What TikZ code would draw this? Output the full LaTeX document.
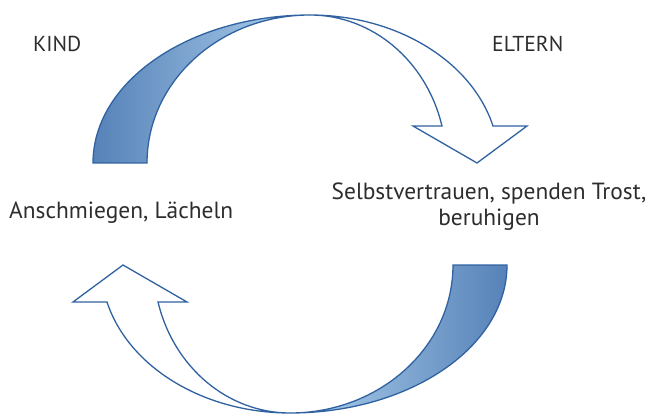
\documentclass[tikz,border=0pt]{standalone}
\usepackage{fontspec}
\setmainfont{PT Sans}
\usetikzlibrary{positioning}
\definecolor{bandedge}{RGB}{48,98,162}
\definecolor{banddark}{RGB}{86,130,184}
\definecolor{bandlight}{RGB}{176,210,238}
\definecolor{labeltext}{RGB}{45,45,45}

\tikzset{
  tagtext/.style={font=\fontsize{21.6}{25}\selectfont, text=labeltext, inner sep=0pt},
  bodytext/.style={font=\fontsize{23.4}{25}\selectfont, text=labeltext, inner sep=0pt},
  bandline/.style={draw=bandedge, line width=1.3pt, line join=miter}
}

\begin{document}
\begin{tikzpicture}[x=1pt, y=1pt]
  \useasboundingbox (0,0) rectangle (648,413);
  % Upper arrow, shaded back part
  \path[bandline, left color=banddark, right color=bandlight]
    (93,250) arc[start angle=180, end angle=90, x radius=217, y radius=148]
    arc[start angle=90, end angle=180, x radius=163, y radius=148] -- cycle;
  % Upper arrow, white front part with head
  \path[bandline, fill=white]
    (310,398) arc[start angle=90, end angle=14.48, x radius=136.3, y radius=148]
    -- (413,287) -- (477,250) -- (527,287) -- (493,287)
    arc[start angle=14.48, end angle=90, x radius=189, y radius=148] -- cycle;
  % Lower arrow, same shape turned round
  \begin{scope}[rotate around={180:(300,199)}]
    \path[bandline, left color=bandlight, right color=banddark]
      (93,250) arc[start angle=180, end angle=90, x radius=217, y radius=148]
      arc[start angle=90, end angle=180, x radius=163, y radius=148] -- cycle;
    \path[bandline, fill=white]
      (310,398) arc[start angle=90, end angle=14.48, x radius=136.3, y radius=148]
      -- (413,287) -- (477,250) -- (527,287) -- (493,287)
      arc[start angle=14.48, end angle=90, x radius=189, y radius=148] -- cycle;
  \end{scope}
  % Labels
  \node[tagtext, anchor=base west] (kind) at (33,361) {KIND};
  \node[tagtext, anchor=base west] (eltern) at (492,361) {ELTERN};
  \node[bodytext, anchor=base west] (child) at (9,194) {Anschmiegen, Lächeln};
  \node[bodytext, anchor=base, align=center] (parent) at (489,188)
    {Selbstvertrauen, spenden Trost,\\beruhigen};
\end{tikzpicture}
\end{document}
